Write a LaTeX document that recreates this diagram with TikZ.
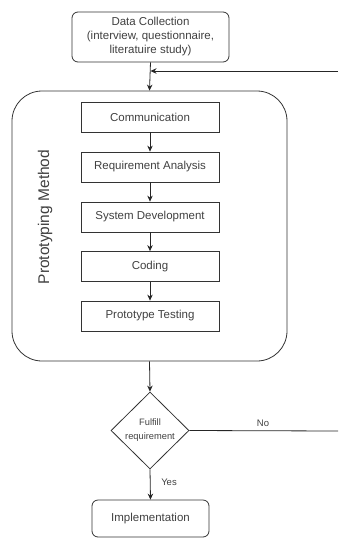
\documentclass[tikz,border=0pt]{standalone}
\usepackage{fontspec}
\setmainfont{Liberation Sans}
\usetikzlibrary{arrows.meta,shapes.geometric}

\tikzset{
  stepbox/.style={draw=black!80, line width=0.8pt, minimum width=138pt, minimum height=30pt,
    inner sep=0pt, text=black!75, font=\fontsize{11.5}{13}\selectfont},
  roundbox/.style={stepbox, rounded corners=6pt},
  arr/.style={draw=black!85, line width=0.8pt, -{Stealth[length=6pt,width=5.5pt]}},
  plainline/.style={draw=black!85, line width=0.8pt},
}

\begin{document}
\begin{tikzpicture}[x=1pt,y=-1pt]
			%%%%% START %%%%%
			\useasboundingbox (0,0) rectangle (338,539);
			
			\node[roundbox, minimum width=157pt, minimum height=50pt, align=center,
				font=\fontsize{11.5}{14}\selectfont] (data) at (150.5,37)
				{Data Collection\\(interview, questionnaire,\\literatuire study)};
			
			\node[draw=black!80, line width=0.8pt, rounded corners=30pt,
				minimum width=275pt, minimum height=270pt] (proto) at (149.5,226) {};
			\node[rotate=90, text=black!75, font=\fontsize{15.5}{17}\selectfont] (protolabel) at (45,217) {Prototyping Method};
			
			\node[stepbox] (comm) at (150,117) {Communication};
			\node[stepbox] (req) at (150,167) {Requirement Analysis};
			\node[stepbox] (sysdev) at (150,217) {System Development};
			\node[stepbox] (coding) at (150,266.5) {Coding};
			\node[stepbox] (test) at (150,316) {Prototype Testing};
			
			\node[draw=black!80, line width=0.8pt, diamond, aspect=1, inner sep=0pt,
				minimum width=78pt, minimum height=77pt, align=center, text=black!75,
				font=\fontsize{9.3}{14}\selectfont] (fulfill) at (150,430.5) {Fulfill\\requirement};
			
			\node[roundbox, minimum width=117pt, minimum height=37pt] (impl) at (150.5,518.5) {Implementation};
			
			\coordinate (fbin) at (338,71);
			\coordinate (fbjoin) at (150.5,71);
			\coordinate (noout) at (338,431);
			
			% connectors
			\draw[arr] (data.south) -- (proto.north);
			\draw[arr] (fbin) -- (fbjoin);
			\draw[arr] (comm) -- (req);
			\draw[arr] (req) -- (sysdev);
			\draw[arr] (sysdev) -- (coding);
			\draw[arr] (coding) -- (test);
			\draw[arr] (proto.south) -- (fulfill.north);
			\draw[plainline] (fulfill.east) -- (noout);
			\draw[arr] (fulfill.south) -- (impl.north);
			
			\node[text=black!75, font=\fontsize{9.5}{11}\selectfont] (nolabel) at (263,423) {No};
			\node[text=black!75, font=\fontsize{9.5}{11}\selectfont] (yeslabel) at (169,482) {Yes};
			%%%%% END %%%%%
\end{tikzpicture}
\end{document}
